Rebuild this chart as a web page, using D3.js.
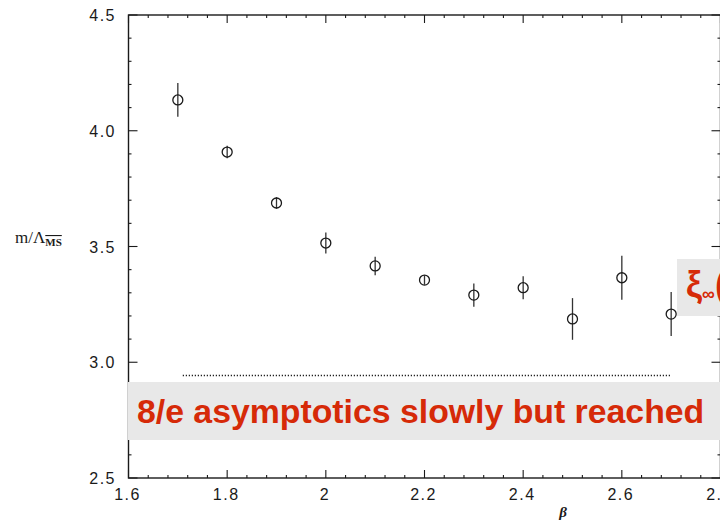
<!DOCTYPE html>
<html><head><meta charset="utf-8">
<script src="https://cdn.jsdelivr.net/npm/d3@7"></script>
<style>body{margin:0;background:#fff}svg{display:block}</style>
</head><body>
<svg id="c" width="720" height="521"></svg>
<script>
const betas = [1.7, 1.8, 1.9, 2.0, 2.1, 2.2, 2.3, 2.4, 2.5, 2.6, 2.7];
const ratios = [4.133, 3.908, 3.688, 3.515, 3.416, 3.355, 3.29, 3.322, 3.187, 3.365, 3.208];
const errors = [0.073, 0.027, 0.025, 0.045, 0.04, 0.02, 0.05, 0.05, 0.09, 0.095, 0.095];
const xTicks = [1.6, 1.8, 2.0, 2.2, 2.4, 2.6, 2.8];
const xTickLabels = ["1.6", "1.8", "2", "2.2", "2.4", "2.6", "2.8"];
const yTicks = [2.5, 3.0, 3.5, 4.0, 4.5];
const yTickLabels = ["2.5", "3.0", "3.5", "4.0", "4.5"];
const asymptote = {value: 8 / Math.E, from: 1.71, to: 2.70};
const annotation = "8/e asymptotics slowly but reached";

const svg = d3.select("#c");
const x = d3.scaleLinear().domain([1.6, 2.8]).range([128.5, 720.5]);
const y = d3.scaleLinear().domain([2.5, 4.5]).range([478, 15]);
const ink = "#1a1a1a";

// frame
svg.append("rect").attr("x", x(1.6)).attr("y", y(4.5))
  .attr("width", x(2.8) - x(1.6)).attr("height", y(2.5) - y(4.5))
  .attr("fill", "none").attr("stroke", ink).attr("stroke-width", 1.4);

// ticks
const xMinor = d3.range(1.6, 2.8001, 0.04);
const yMinor = d3.range(2.5, 4.5001, 0.1);
const tk = svg.append("g").attr("stroke", ink).attr("stroke-width", 1.1);
xMinor.forEach(v => {
  const major = Math.abs(v * 5 - Math.round(v * 5)) < 1e-6;
  const L = major ? 8 : 3;
  tk.append("line").attr("x1", x(v)).attr("x2", x(v)).attr("y1", y(2.5)).attr("y2", y(2.5) - L);
  tk.append("line").attr("x1", x(v)).attr("x2", x(v)).attr("y1", y(4.5)).attr("y2", y(4.5) + L);
});
yMinor.forEach(v => {
  const major = Math.abs(v * 2 - Math.round(v * 2)) < 1e-6;
  const L = major ? 9 : 3;
  tk.append("line").attr("x1", x(1.6)).attr("x2", x(1.6) + L).attr("y1", y(v)).attr("y2", y(v));
  tk.append("line").attr("x1", x(2.8)).attr("x2", x(2.8) - L).attr("y1", y(v)).attr("y2", y(v));
});

// tick labels
const lab = svg.append("g").attr("font-family", "Liberation Sans, Arial, sans-serif")
  .attr("font-size", 16).attr("fill", ink).attr("letter-spacing", 1.5);
xTicks.forEach((v, i) => {
  lab.append("text").attr("x", x(v) - 1).attr("y", 500).attr("text-anchor", "middle").text(xTickLabels[i]);
});
yTicks.forEach((v, i) => {
  lab.append("text").attr("x", 116).attr("y", y(v) + 6).attr("text-anchor", "end").text(yTickLabels[i]);
});

// axis titles
svg.append("text").attr("x", 563).attr("y", 517).attr("text-anchor", "middle")
  .attr("font-family", "Liberation Serif, serif").attr("font-style", "italic").attr("font-weight", "bold")
  .attr("font-size", 15).attr("fill", ink).text("β");
const yl = svg.append("text").attr("x", 15).attr("y", 243)
  .attr("font-family", "Liberation Serif, serif").attr("font-size", 17).attr("fill", ink);
yl.append("tspan").text("m/Λ");
yl.append("tspan").attr("font-size", 11).attr("font-weight", "bold").attr("dy", 3)
  .attr("text-decoration", "overline").text("MS");

// asymptote dotted line
svg.append("line").attr("x1", x(asymptote.from)).attr("x2", x(asymptote.to))
  .attr("y1", y(asymptote.value)).attr("y2", y(asymptote.value))
  .attr("stroke", ink).attr("stroke-width", 1.6).attr("stroke-dasharray", "1.2,1.8");

// data
const pts = svg.append("g");
betas.forEach((b, i) => {
  pts.append("line").attr("x1", x(b)).attr("x2", x(b))
    .attr("y1", y(ratios[i] - errors[i])).attr("y2", y(ratios[i] + errors[i]))
    .attr("stroke", "#333").attr("stroke-width", 1.3);
  pts.append("circle").attr("cx", x(b)).attr("cy", y(ratios[i])).attr("r", 5)
    .attr("fill", "none").attr("stroke", ink).attr("stroke-width", 1.3);
});

// annotation boxes
const red = "#d62a08";
svg.append("rect").attr("x", 128).attr("y", 382).attr("width", 592).attr("height", 58).attr("fill", "#e8e8e8");
svg.append("text").attr("x", 137).attr("y", 423)
  .attr("font-family", "Liberation Sans, Arial, sans-serif").attr("font-weight", "bold")
  .attr("font-size", 33.8).attr("fill", red).text(annotation);

svg.append("rect").attr("x", 677).attr("y", 259).attr("width", 60).attr("height", 57).attr("fill", "#e8e8e8");
const xi = svg.append("text").attr("x", 686).attr("y", 297)
  .attr("font-family", "Liberation Sans, Arial, sans-serif").attr("font-weight", "bold")
  .attr("font-size", 36).attr("fill", red);
xi.append("tspan").text("ξ");
xi.append("tspan").attr("font-size", 18).attr("dy", 3).text("∞");
xi.append("tspan").attr("dy", -3).text("(β)");
</script>
</body></html>
